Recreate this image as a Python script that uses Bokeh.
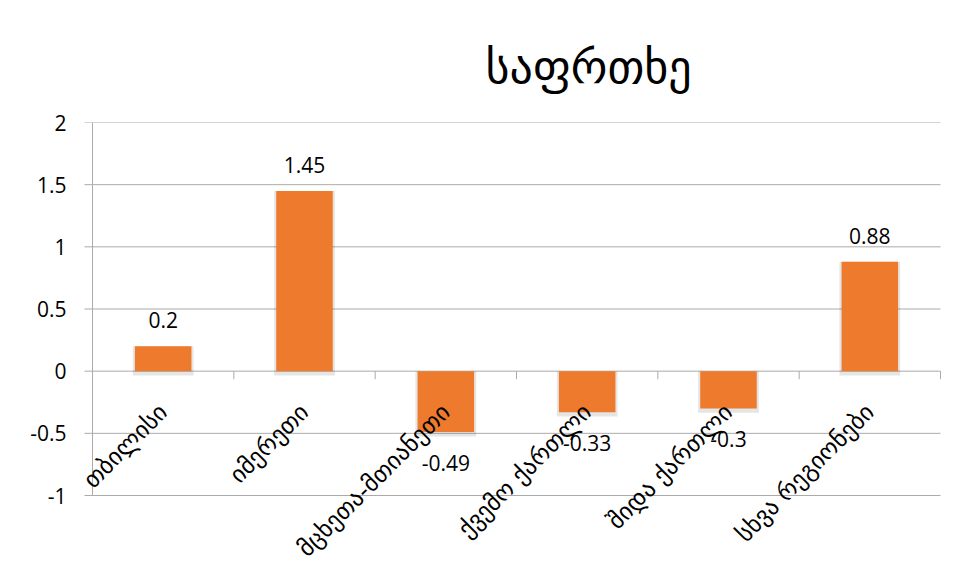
import math
from bokeh.plotting import figure
from bokeh.core.properties import value
from bokeh.models import (ColumnDataSource, LabelSet, Label, LinearAxis, FixedTicker,
                          Title, Range1d, FactorRange)
from bokeh.embed import file_html
from bokeh.resources import INLINE

categories = ["თბილისი", "იმერეთი", "მცხეთა-მთიანეთი", "ქვემო ქართლი", "შიდა ქართლი", "სხვა რეგიონები"]
values = [0.2, 1.45, -0.49, -0.33, -0.3, 0.88]
value_labels = ["0.2", "1.45", "-0.49", "-0.33", "-0.3", "0.88"]
y_ticks = [-1, -0.5, 0, 0.5, 1, 1.5, 2]
y_tick_labels = ["-1", "-0.5", "0", "0.5", "1", "1.5", "2"]
title_text = "საფრთხე"

GEO_FONT = "DejaVu Sans"
NUM_FONT = "Open Sans"
GRID = "#ABABAB"
BAR = "#EE7A2D"

# layout (pixels)
W, H = 956, 572
AXIS_L, AXIS_R, FRAME_T = 92, 940, 122   # plot area drawn between these
PAD = 16                                  # frame extends this far left/right of it
TICK_OUT = 8                              # y tick marks reach left of the axis
LABEL_RIGHT = 66                          # right edge of the y tick labels
AXIS_BOTTOM_PX = 495                      # where the lowest tick (-1) sits
n = len(categories)
unit_px = (AXIS_R - AXIS_L) / n
pad_units = PAD / unit_px
tick_units = TICK_OUT / unit_px
y_lo, y_hi = min(y_ticks), max(y_ticks)
px_per_unit = (AXIS_BOTTOM_PX - FRAME_T) / (y_hi - y_lo)
y_start = y_lo - (H - AXIS_BOTTOM_PX) / px_per_unit
frame_l = AXIS_L - PAD

p = figure(width=W, height=H,
           x_range=FactorRange(*categories, range_padding=2 * pad_units / n),
           y_range=Range1d(y_start, y_hi),
           output_backend="svg", toolbar_location=None,
           x_axis_location=None, y_axis_location=None,
           min_border_left=frame_l, min_border_right=0,
           min_border_top=FRAME_T, min_border_bottom=0)
p.outline_line_color = None
p.background_fill_color = "white"
for g in p.grid:
    g.grid_line_color = None

title = Title(text=title_text, align="left", offset=393 + PAD, standoff=57,
              text_font=GEO_FONT, text_font_size="46px", text_font_style="normal",
              text_color="black")
p.add_layout(title, "above")

# horizontal gridlines across the category span, poking out left as tick marks
p.segment(x0=[-tick_units] * len(y_ticks), x1=[n] * len(y_ticks), y0=y_ticks, y1=y_ticks,
          line_color=GRID, line_width=1)
# y axis line at the left edge of the first category
p.segment(x0=[0], x1=[0], y0=[y_lo], y1=[y_hi], line_color=GRID, line_width=1)

# library axis supplies the tick labels (line and tick marks hidden)
yaxis = LinearAxis(ticker=FixedTicker(ticks=y_ticks), bounds=(y_lo, y_hi))
yaxis.major_label_overrides = {t: s for t, s in zip(y_ticks, y_tick_labels)}
yaxis.axis_line_color = None
yaxis.major_tick_line_color = None
yaxis.major_tick_out = 0
yaxis.major_tick_in = 0
yaxis.minor_tick_line_color = None
yaxis.major_label_standoff = frame_l - LABEL_RIGHT
yaxis.major_label_text_font = NUM_FONT
yaxis.major_label_text_font_size = "21px"
yaxis.major_label_text_color = "black"
p.add_layout(yaxis, "left")

src = ColumnDataSource(dict(
    cat=categories,
    val=values,
    lab=value_labels,
    off=[26 if v >= 0 else -31 for v in values],
    sh_top=[max(v, 0) for v in values],
    sh_bot=[min(v, 0) - 0.035 for v in values],
))

# soft shadow behind the bars
p.vbar(x="cat", top="sh_top", bottom="sh_bot", width=0.43, source=src,
       fill_color="black", fill_alpha=0.10, line_color=None)
p.vbar(x="cat", top="val", bottom=0, width=0.4, source=src,
       fill_color=BAR, line_color=None)

# category tick marks along the zero line
bounds = list(range(n + 1))
p.segment(x0=bounds, x1=bounds, y0=[0] * len(bounds), y1=[-0.065] * len(bounds),
          line_color=GRID, line_width=1)

vals = LabelSet(x="cat", y="val", text="lab", source=src,
                y_offset="off", text_align="center", text_baseline="middle",
                text_font=value(NUM_FONT), text_font_size=value("21px"),
                text_color="black")
p.add_layout(vals)

# rotated category labels; x is each factor's synthetic centre on the categorical scale
for i, cat in enumerate(categories):
    p.add_layout(Label(x=i + 0.5, y=0, text=cat, angle=math.pi / 4,
                       x_offset=0, y_offset=-37,
                       text_align="right", text_baseline="middle",
                       text_font=GEO_FONT, text_font_size="24px",
                       text_color="black"))

open("out.html", "w").write(file_html(p, INLINE))
